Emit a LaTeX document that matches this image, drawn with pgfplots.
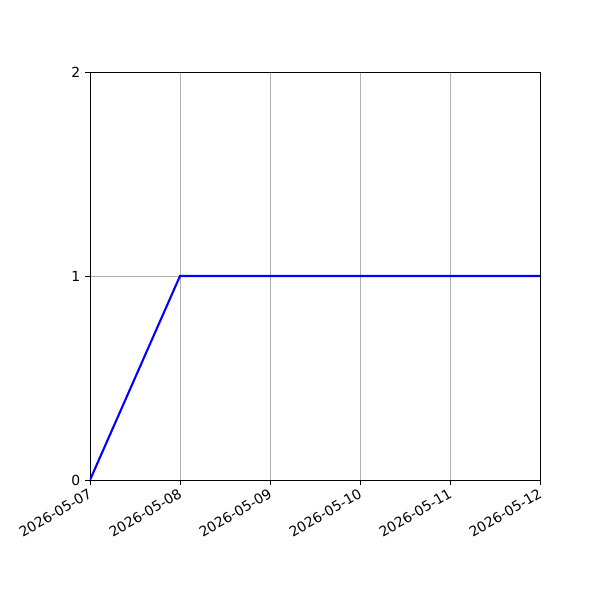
\documentclass[border=0pt]{standalone}
\usepackage{fontspec}
\setmainfont{DejaVu Sans}
\usepackage{pgfplots}
\pgfplotsset{compat=1.18}

\begin{document}
\begin{tikzpicture}
\useasboundingbox (-64.8pt,-86.4pt) rectangle (367.2pt,345.6pt);
\begin{axis}[
  at={(0,0)}, anchor=south west,
  scale only axis,
  width=324pt, height=293.76pt,
  xmin=0, xmax=5, ymin=0, ymax=2,
  xtick={0,1,2,3,4,5},
  xticklabels={2026-05-07,2026-05-08,2026-05-09,2026-05-10,2026-05-11,2026-05-12},
  ytick={0,1,2},
  xticklabel style={rotate=30, anchor=north east, inner sep=1pt, xshift=-1.5pt, font=\fontsize{10}{12}\selectfont},
  yticklabel style={font=\fontsize{10}{12}\selectfont},
  /pgf/number format/assume math mode=true,
  grid=major,
  major grid style={color=black!31, line width=0.6pt},
  axis line style={line width=0.7pt},
  tick style={line width=0.7pt, color=black},
  tick align=outside,
  major tick length=3.5pt,
  xtick pos=bottom, ytick pos=left,
]
\addplot[color=blue, line width=1.5pt, mark=none] coordinates {
  (0,0) (1,1) (2,1) (3,1) (4,1) (5,1)
};
\end{axis}
\end{tikzpicture}
\end{document}
